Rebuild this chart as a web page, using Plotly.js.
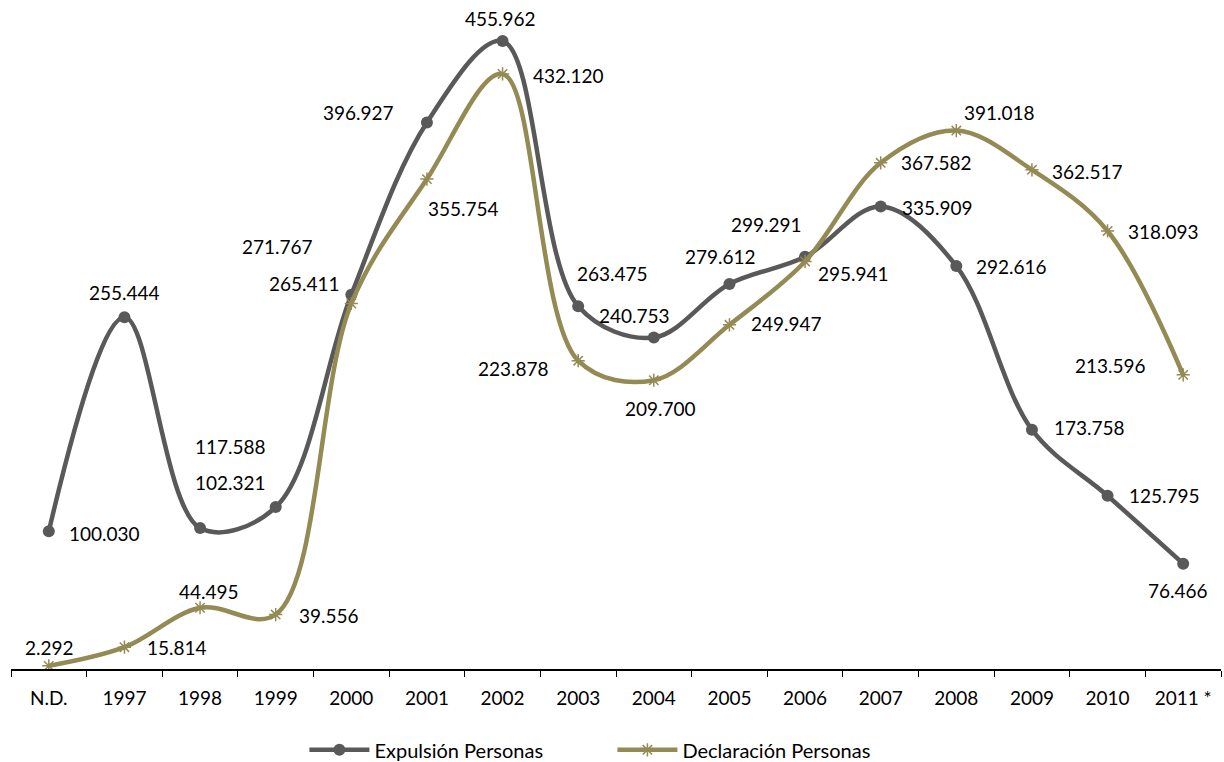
<!DOCTYPE html>
<html>
<head>
<meta charset="utf-8">
<script src="https://cdn.plot.ly/plotly-3.0.1.min.js"></script>
<style>html,body{margin:0;padding:0;background:#fff;}#chart{width:1224px;height:762px;}</style>
</head>
<body>
<div id="chart"></div>
<script>
// ---- data ----
var categories = ["N.D.", "1997", "1998", "1999", "2000", "2001", "2002", "2003", "2004", "2005", "2006", "2007", "2008", "2009", "2010", "2011 *"];
var expulsion = [100030, 255444, 102321, 117588, 271767, 396927, 455962, 263475, 240753, 279612, 299291, 335909, 292616, 173758, 125795, 76466];
var declaracion = [2292, 15814, 44495, 39556, 265411, 355754, 432120, 223878, 209700, 249947, 295941, 367582, 391018, 362517, 318093, 213596];
var seriesNames = ["Expulsión Personas", "Declaración Personas"];

// label offsets (pixels, styling only)
var expOffX = [56, 0, 30, -45, -74, -68, -2, 34, -19, -9, -39, 57, 55, 58, 57, -5];
var expOffY = [-2, 25, 46, 61, 48, 10, 23, 33, 22, 27, 32, -1, 0, 2, 0, -27];
var decOffX = [1, 53, 9, 53, -47, 37, 66, -65, 7, 57, 48, 56, 43, 56, 56, -73];
var decOffY = [18, 0, 16, -1, 20, -29, -2, -8, -28, 1, -12, 0, 18, -2, -1, 9];

var FONT = "Lato, 'Open Sans', sans-serif";
var GRAY = "#595959";
var OLIVE = "#948A54";

function fmt(v) {
  var s = String(v);
  if (s.length > 3) s = s.slice(0, s.length - 3) + "." + s.slice(s.length - 3);
  return s;
}

var traces = [
  {
    x: categories, y: expulsion, name: seriesNames[0], type: "scatter", mode: "lines+markers",
    line: {color: GRAY, width: 4.5, shape: "spline", smoothing: 1},
    marker: {symbol: "circle", size: 12, color: GRAY},
    hoverinfo: "skip"
  },
  {
    x: categories, y: declaracion, name: seriesNames[1], type: "scatter", mode: "lines+markers",
    line: {color: OLIVE, width: 4.5, shape: "spline", smoothing: 1},
    marker: {symbol: "asterisk-open", size: 11, color: OLIVE, line: {color: OLIVE, width: 1.5}},
    hoverinfo: "skip"
  }
];

var annotations = [];
categories.forEach(function (c, i) {
  annotations.push({x: i, y: expulsion[i], xref: "x", yref: "y", text: fmt(expulsion[i]), showarrow: false,
    xshift: expOffX[i], yshift: expOffY[i], font: {family: FONT, size: 19, color: "#000"}});
  annotations.push({x: i, y: declaracion[i], xref: "x", yref: "y", text: fmt(declaracion[i]), showarrow: false,
    xshift: decOffX[i], yshift: decOffY[i], font: {family: FONT, size: 19, color: "#000"}});
});

var layout = {
  width: 1224, height: 762,
  margin: {l: 11, r: 3, t: 8, b: 93, autoexpand: false},
  paper_bgcolor: "#fff", plot_bgcolor: "#fff",
  showlegend: true,
  legend: {orientation: "h", x: 0.2425, xanchor: "left", yref: "container", y: 0.016, yanchor: "middle",
    font: {family: FONT, size: 20, color: "#000"}, itemwidth: 60, entrywidth: 233},
  xaxis: {
    type: "category", range: [-0.5, 15.5], showgrid: false, zeroline: false,
    showline: true, linecolor: "#000", linewidth: 1.5,
    ticks: "outside", tickson: "boundaries", ticklen: 6, tickcolor: "#000", tickwidth: 1,
    ticklabelstandoff: 12,
    tickfont: {family: FONT, size: 19, color: "#000"}, fixedrange: true
  },
  yaxis: {
    range: [0, 480000], visible: false, showgrid: false, zeroline: false, fixedrange: true
  },
  annotations: annotations
};

Plotly.newPlot("chart", traces, layout, {displayModeBar: false, staticPlot: true});
</script>
</body>
</html>
